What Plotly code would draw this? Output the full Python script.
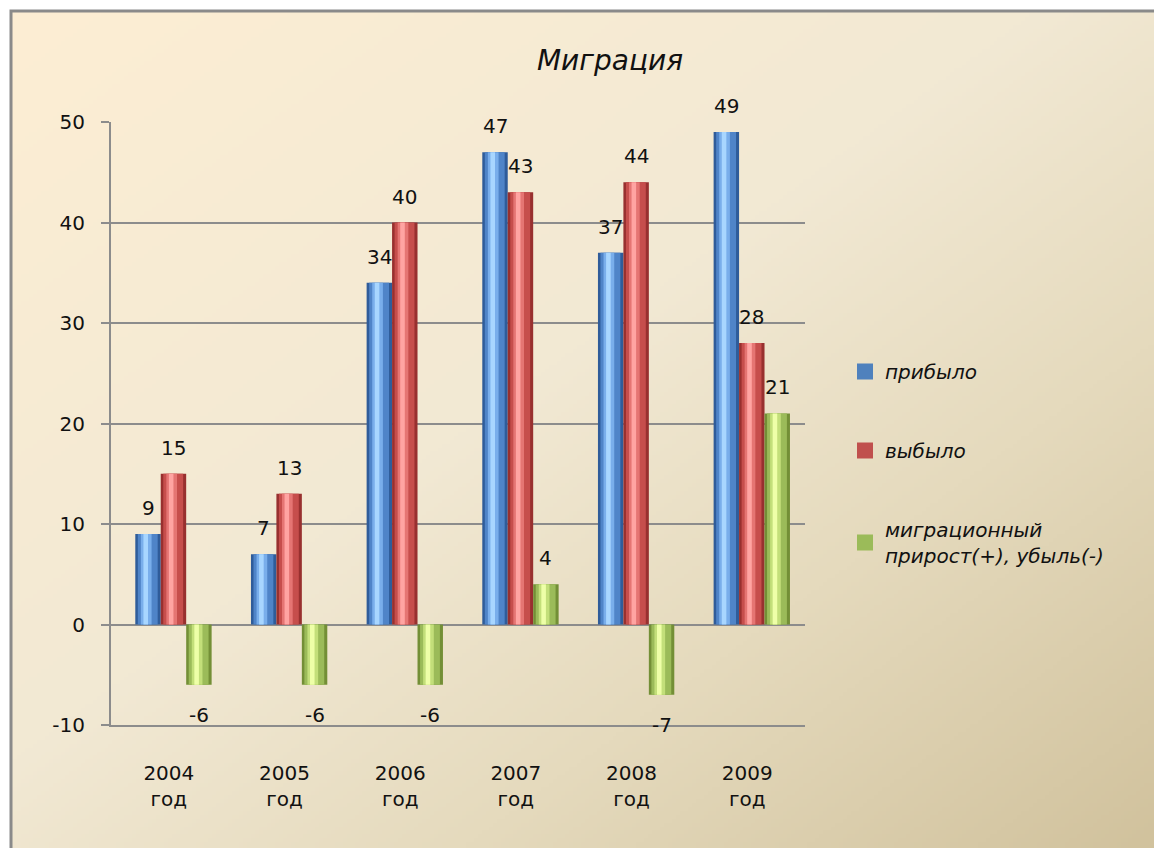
import base64, struct, zlib
import numpy as np
import plotly.graph_objects as go

# ---------------- data ----------------
years = ["2004", "2005", "2006", "2007", "2008", "2009"]
tick_labels = ["2004<br>год", "2005<br>год", "2006<br>год", "2007<br>год", "2008<br>год", "2009<br>год"]
series_names = ["прибыло", "выбыло", "миграционный<br>прирост(+), убыль(-)"]
arrived = [9, 7, 34, 47, 37, 49]
departed = [15, 13, 40, 43, 44, 28]
net = [-6, -6, -6, 4, -7, 21]
y_ticks = [-10, 0, 10, 20, 30, 40, 50]

W, H = 1154, 848
FONT = "DejaVu Sans"


# ---------------- background gradient image ----------------
def gradient_png(w, h):
    xs = np.linspace(0, 1, w)[None, :]
    ys = np.linspace(0, 1, h)[:, None]
    t = (xs + ys) / 2.0
    stops = [0.0, 0.45, 0.7, 1.0]
    cols = np.array([[253, 238, 211], [242, 233, 212], [229, 218, 189], [209, 194, 157]], float)
    img = np.zeros((h, w, 3))
    for c in range(3):
        img[:, :, c] = np.interp(t, stops, cols[:, c])
    img = img.astype(np.uint8)
    raw = b"".join(b"\x00" + img[r].tobytes() for r in range(h))

    def chunk(tag, data):
        c = struct.pack(">I", len(data)) + tag + data
        return c + struct.pack(">I", zlib.crc32(tag + data) & 0xFFFFFFFF)

    png = b"\x89PNG\r\n\x1a\n" + chunk(b"IHDR", struct.pack(">IIBBBBB", w, h, 8, 2, 0, 0, 0))
    png += chunk(b"IDAT", zlib.compress(raw, 9)) + chunk(b"IEND", b"")
    return "data:image/png;base64," + base64.b64encode(png).decode()


bg = gradient_png(288, 212)

# ---------------- layout geometry ----------------
x_dom = [111 / W, 805 / W]
y_dom = [1 - 725 / H, 1 - 122 / H]
zero_pos = y_dom[0] + (y_dom[1] - y_dom[0]) * (10 / 60)

bar_w = 0.22
offsets = [-0.29, -0.07, 0.15]
legend_colors = ["#4F81BD", "#C0504D", "#9BBB59"]
shades = [
    ["#2F5C9A", "#4F84C8", "#79AEEB", "#A8D6FF"],
    ["#98302F", "#C64E4C", "#E57573", "#FFA4A2"],
    ["#738F36", "#9BBB59", "#C3DF7A", "#EEFFA8"],
]
layers = [(0.0, 1.0), (0.10, 0.78), (0.22, 0.42), (0.32, 0.18)]

fig = go.Figure()
xs = list(range(len(years)))
all_vals = [arrived, departed, net]

for s, vals in enumerate(all_vals):
    for li, (start, frac) in enumerate(layers):
        fig.add_trace(go.Bar(
            x=xs, y=vals,
            width=bar_w * frac,
            offset=offsets[s] + bar_w * start,
            marker=dict(color=shades[s][li], line=dict(width=0)),
            name=series_names[s],
            legendgroup=f"g{s}",
            showlegend=False,
            hoverinfo="skip",
        ))
    # legend entry
    fig.add_trace(go.Scatter(
        x=[None], y=[None], mode="markers",
        marker=dict(color=legend_colors[s], symbol="square", size=16),
        name=series_names[s],
        legendgroup=f"g{s}",
        showlegend=True,
    ))

annotations = []
for s, vals in enumerate(all_vals):
    for i, v in enumerate(vals):
        annotations.append(dict(
            x=i + offsets[s] + bar_w / 2, y=v, xref="x", yref="y",
            text=str(v), showarrow=False,
            yshift=26 if v > 0 else -30,
            font=dict(family=FONT, size=20, color="#111111"),
        ))

fig.update_layout(
    width=W, height=H, autosize=False,
    margin=dict(l=0, r=0, t=0, b=0),
    paper_bgcolor="white",
    plot_bgcolor="rgba(0,0,0,0)",
    barmode="overlay",
    title=dict(text="Миграция", x=610 / W, y=1 - 60 / H, xanchor="center", yanchor="middle",
               font=dict(family=FONT, size=28, color="#111111", style="italic")),
    xaxis=dict(
        domain=x_dom, range=[-0.5, 5.5],
        tickvals=xs, ticktext=tick_labels,
        showgrid=False, zeroline=False,
        showline=True, linecolor="#8C8C8C", linewidth=2,
        ticks="", ticklabelstandoff=29,
        tickfont=dict(family=FONT, size=20, color="#111111"),
        automargin=False,
    ),
    xaxis2=dict(
        overlaying="x", anchor="free", position=zero_pos, domain=x_dom,
        range=[-0.5, 5.5], tickvals=[0.5, 1.5, 2.5, 3.5, 4.5],
        showticklabels=False, ticks="outside", ticklen=10, tickwidth=2,
        tickcolor="#8C8C8C", showgrid=False, zeroline=False, showline=False,
    ),
    yaxis=dict(
        domain=y_dom, range=[-10, 50], tickvals=y_ticks, ticktext=[str(v) for v in y_ticks],
        showgrid=True, gridcolor="#8C8C8C", gridwidth=2,
        zeroline=True, zerolinecolor="#8C8C8C", zerolinewidth=2,
        showline=True, linecolor="#8C8C8C", linewidth=2,
        ticks="outside", ticklen=8, tickwidth=2, tickcolor="#8C8C8C",
        tickfont=dict(family=FONT, size=20, color="#111111"),
        ticklabelstandoff=12, automargin=False,
    ),
    legend=dict(
        x=845 / W, y=1 - 352 / H, xanchor="left", yanchor="top",
        bgcolor="rgba(0,0,0,0)", tracegroupgap=50,
        font=dict(family=FONT, size=20, color="#111111", style="italic"),
        itemwidth=30,
    ),
    annotations=annotations,
    images=[dict(source=bg, xref="paper", yref="paper", x=11 / W, y=1 - 11 / H,
                 sizex=1 - 11 / W, sizey=1 - 11 / H, sizing="stretch", layer="below",
                 xanchor="left", yanchor="top")],
    shapes=[dict(type="rect", xref="paper", yref="paper", x0=11 / W, x1=1.05,
                 y0=-0.05, y1=1 - 11 / H, line=dict(color="#8A8A8A", width=3),
                 fillcolor="rgba(0,0,0,0)", layer="above")],
)

fig.write_html(
    "out.html",
    config={"displayModeBar": False},
    post_script="document.body.style.margin='0';document.body.style.overflow='hidden';"
                "document.documentElement.style.overflow='hidden';",
)
